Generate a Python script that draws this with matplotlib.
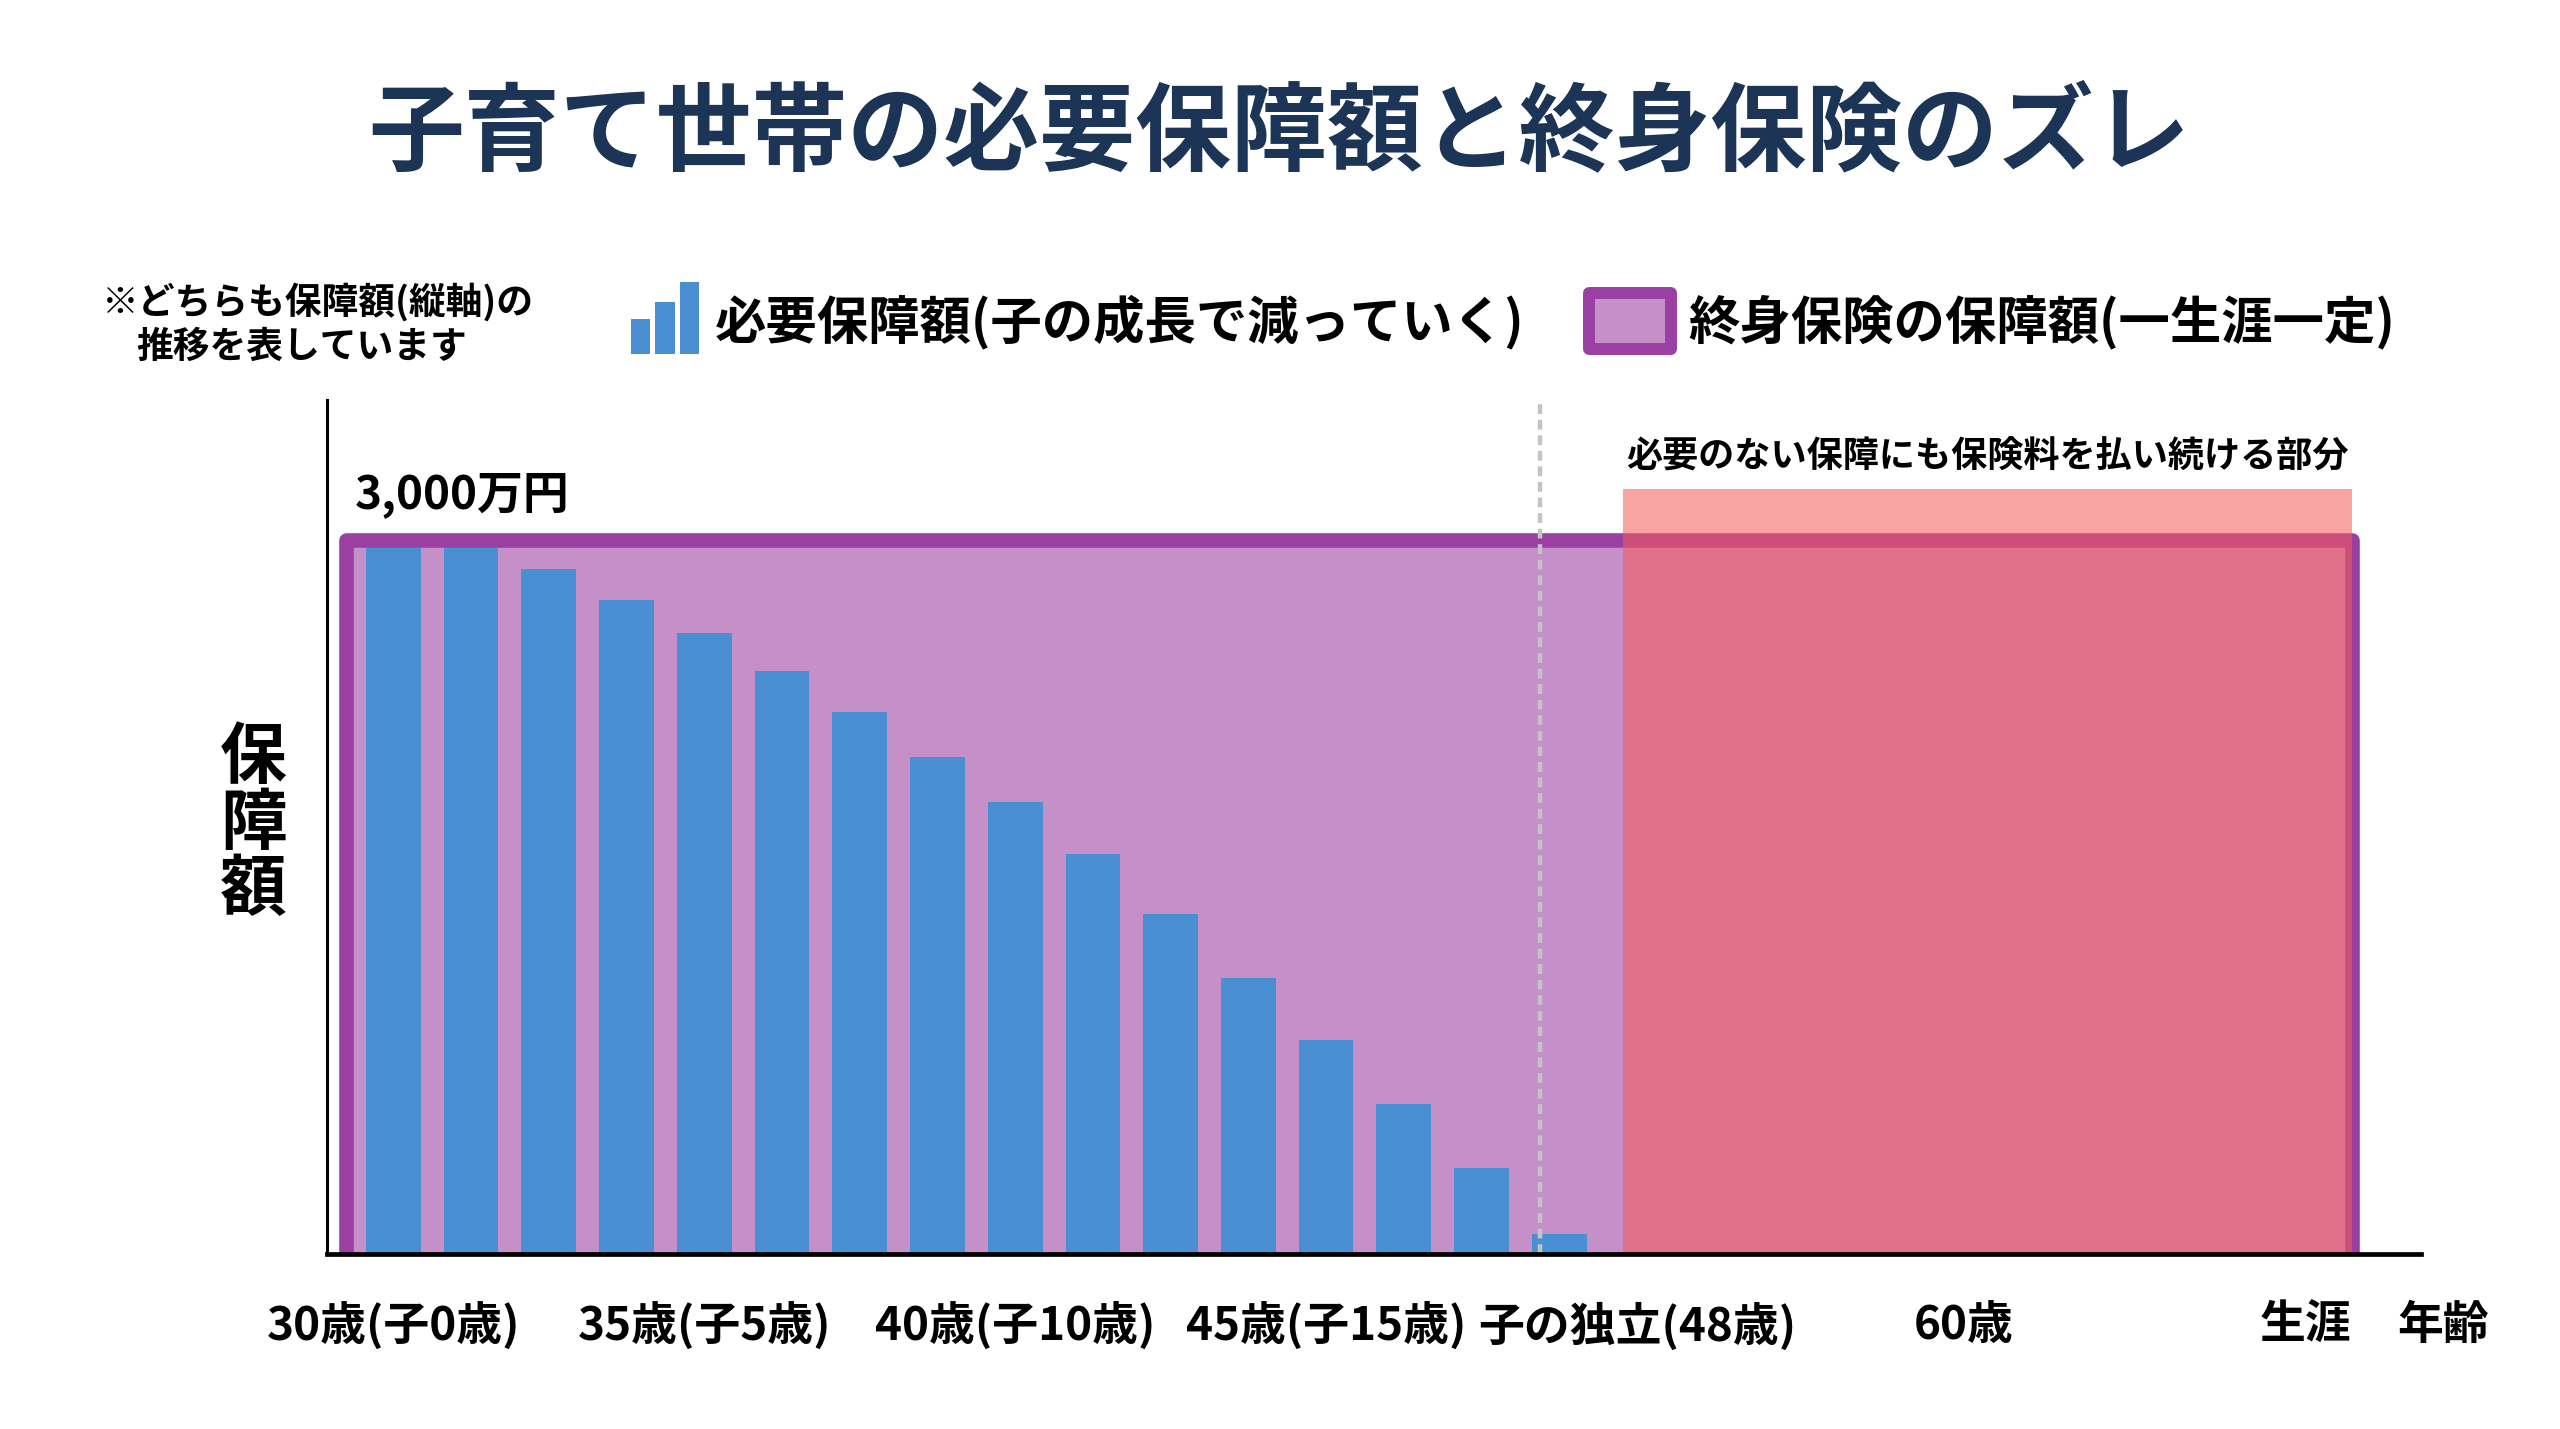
import numpy as np
import matplotlib
matplotlib.use("Agg")
from matplotlib import pyplot as plt
from matplotlib.patches import Rectangle

plt.rcParams['font.family'] = ['Noto Sans CJK JP', 'DejaVu Sans']
plt.rcParams['font.weight'] = 'bold'

# 必要保障額 (万円) 子の成長で減っていく
need_amount = [3000, 3000, 2880, 2750, 2610, 2450, 2280, 2090, 1900, 1680, 1430, 1160, 900, 630, 360, 85]
bar_x = np.arange(len(need_amount))

# 終身保険の保障額 (一生涯一定)
whole_life = 3000
excess_top = 3215

tick_pos = [0, 4, 8, 12, 16, 20.2, 24.6]
tick_labels = ["30歳(子0歳)", "35歳(子5歳)", "40歳(子10歳)", "45歳(子15歳)",
               "子の独立(48歳)", "60歳", "生涯"]

plan_start, plan_end = -0.61, 25.2
excess_start = 15.82
indep_x = 14.75

fig = plt.figure(figsize=(25.6, 14.29), dpi=100)
ax = fig.add_axes([0.1277, 0.1225, 0.9458 - 0.1277, 0.72 - 0.1225])

# 終身保険(紫の枠)
ax.add_patch(Rectangle((plan_start, 0), plan_end - plan_start, whole_life,
                       facecolor='#c490c7', edgecolor='none', zorder=1))
ax.bar(bar_x, need_amount, width=0.705, color='#4a8fd2', zorder=2)
ax.plot([plan_start, plan_start, plan_end, plan_end], [0, whole_life, whole_life, 0],
        color='#9a40a2', lw=10.5, solid_joinstyle='round', solid_capstyle='butt', zorder=2.5)
# 払い続ける部分
ax.add_patch(Rectangle((excess_start, 0), plan_end - excess_start, excess_top,
                       facecolor=(245/255, 91/255, 91/255), alpha=0.56,
                       edgecolor='none', zorder=3))
ax.axvline(indep_x, color='#c4c4c4', lw=3.2, linestyle=(0, (2.2, 1.3)), zorder=2.7)

ax.set_xlim(-0.855, 26.09)
ax.set_ylim(0, 3590)
ax.set_yticks([])
ax.set_xticks(tick_pos, tick_labels, fontsize=33, fontweight='bold')
ax.tick_params(axis='x', length=0, pad=35)
for s in ['top', 'right']:
    ax.spines[s].set_visible(False)
ax.spines['left'].set_linewidth(2.2)
ax.spines['bottom'].set_linewidth(3.4)
ax.spines['bottom'].set_zorder(4)

ax.annotate("年齢", xy=(26.37, 0), xycoords=('data', 'axes fraction'),
            xytext=(0, -35), textcoords='offset points', ha='center', va='top',
            fontsize=33, fontweight='bold', annotation_clip=False)
ax.text(-0.5, 3192, "3,000万円", fontsize=33, fontweight='bold', ha='left', va='center')
ax.text(excess_start + 0.04, 3350, "必要のない保障にも保険料を払い続ける部分",
        fontsize=26, fontweight='bold', ha='left', va='center')

# タイトル・注記
fig.text(0.4997, 0.906, "子育て世帯の必要保障額と終身保険のズレ", fontsize=69,
         fontweight='bold', color='#1c3557', ha='center', va='center')
fig.text(0.124, 0.7886, "※どちらも保障額(縦軸)の", fontsize=26.5, ha='center', va='center')
fig.text(0.118, 0.7566, "推移を表しています", fontsize=26.5, ha='center', va='center')
fig.text(0.0989, 0.4229, "保\n障\n額", fontsize=48, ha='center', va='center', linespacing=0.98)

# 凡例
for bx, bh in zip([0.2465, 0.2559, 0.2656], [0.0245, 0.0364, 0.0504]):
    fig.add_artist(Rectangle((bx, 0.7523), 0.0076, bh, transform=fig.transFigure,
                             facecolor='#4a8fd2', edgecolor='none'))
fig.text(0.2793, 0.7749, "必要保障額(子の成長で減っていく)", fontsize=37, ha='left', va='center')
fig.add_artist(Rectangle((0.6207, 0.7558), 0.0320, 0.0392, transform=fig.transFigure,
                         facecolor='#c490c7', edgecolor='#9a40a2', lw=8.6, joinstyle='round'))
fig.text(0.6594, 0.7749, "終身保険の保障額(一生涯一定)", fontsize=37, ha='left', va='center')

plt.savefig("out.png")
